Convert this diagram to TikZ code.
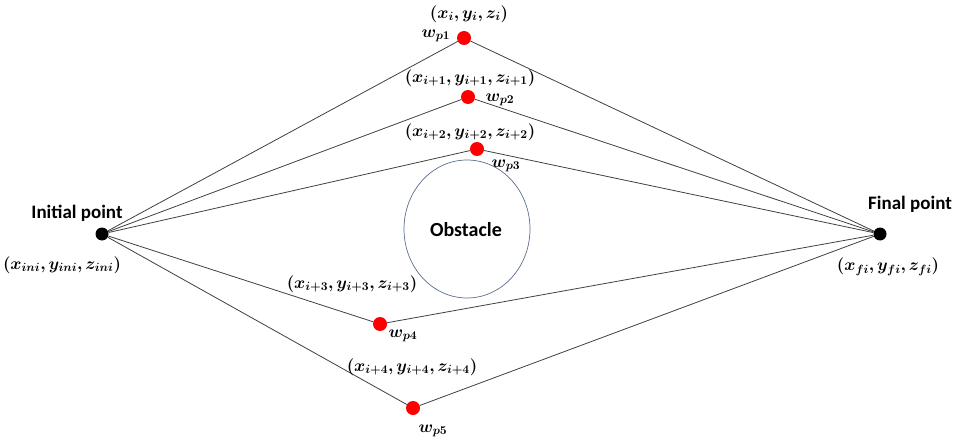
\RequirePackage{fix-cm}
\documentclass[tikz,border=0pt]{standalone}
\usepackage{fontspec}
\setmainfont{Carlito}
\usepackage{amsmath,bm}
\begin{document}
\begin{tikzpicture}[x=1pt,y=-1pt,
  waypt/.style={circle, fill=red, inner sep=0pt, minimum size=14pt},
  endpt/.style={circle, fill=black, inner sep=0pt, minimum width=12pt, minimum height=13pt},
  route/.style={draw=black!75, line width=0.8pt},
  ptlbl/.style={font=\bfseries\fontsize{19}{22}\selectfont},
  crdlbl/.style={font=\fontsize{17}{20}\selectfont, inner sep=0pt}]
\useasboundingbox (0,0) rectangle (958,441);
% start and goal
\node[endpt] (ini) at (102,234) {};
\node[endpt] (fin) at (880,234) {};
\node[ptlbl] (inilbl) at (77,213) {Initial point};
\node[ptlbl] (finlbl) at (910,204) {Final point};
\node[crdlbl] (inicrd) at (62,265) {$\bm{(x_{ini}, y_{ini}, z_{ini})}$};
\node[crdlbl] (fincrd) at (888,267) {$\bm{(x_{fi}, y_{fi}, z_{fi})}$};
% obstacle
\draw[draw={rgb,255:red,90;green,110;blue,140}, line width=0.7pt] (467,229) ellipse (63 and 69);
\node[ptlbl, font=\bfseries\fontsize{20}{22}\selectfont] (obs) at (466,230) {Obstacle};
% waypoints
\node[waypt] (wp1) at (464,38) {};
\node[waypt] (wp2) at (468,97) {};
\node[waypt] (wp3) at (477,149) {};
\node[waypt] (wp4) at (380,324) {};
\node[waypt] (wp5) at (413,408) {};
% paths through each waypoint
\foreach \w in {wp1,wp2,wp3,wp4,wp5}
  \draw[route] (ini) -- (\w) -- (fin);
% labels
\node[crdlbl] (c1) at (469,14) {$\bm{(x_{i}, y_{i}, z_{i})}$};
\node[crdlbl] (c2) at (470,78) {$\bm{(x_{i+1}, y_{i+1}, z_{i+1})}$};
\node[crdlbl] (c3) at (470,132) {$\bm{(x_{i+2}, y_{i+2}, z_{i+2})}$};
\node[crdlbl] (c4) at (352,284) {$\bm{(x_{i+3}, y_{i+3}, z_{i+3})}$};
\node[crdlbl] (c5) at (412,367) {$\bm{(x_{i+4}, y_{i+4}, z_{i+4})}$};
\node[crdlbl] (l1) at (436,36) {$\bm{w_{p1}}$};
\node[crdlbl] (l2) at (500,100) {$\bm{w_{p2}}$};
\node[crdlbl] (l3) at (506,166) {$\bm{w_{p3}}$};
\node[crdlbl] (l4) at (403,336) {$\bm{w_{p4}}$};
\node[crdlbl] (l5) at (433,431) {$\bm{w_{p5}}$};
\end{tikzpicture}
\end{document}
